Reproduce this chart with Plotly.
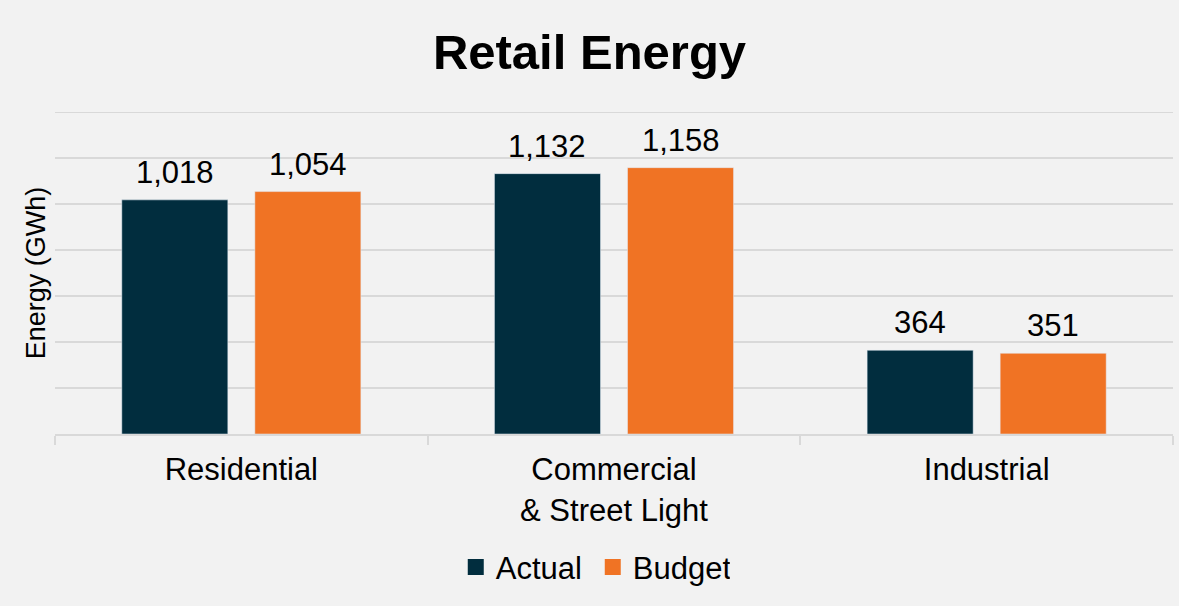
import plotly.graph_objects as go

categories = ["Residential", "Commercial<br>& Street Light", "Industrial"]
actual = [1018, 1132, 364]
budget = [1054, 1158, 351]

FONT = "Liberation Sans, Arial, sans-serif"
C_ACT = "#012d3e"
C_BUD = "#f07324"
GRID = "#d9d9d9"
BARGAP = 0.286
BARGROUPGAP = 0.203
YMAX = 1400

fig = go.Figure()
fig.add_trace(go.Bar(name="Actual", x=categories, y=actual, marker_color=C_ACT, showlegend=False))
fig.add_trace(go.Bar(name="Budget", x=categories, y=budget, marker_color=C_BUD, showlegend=False))

# legend entries with larger square swatches
fig.add_trace(go.Scatter(name="Actual", x=[None], y=[None], mode="markers",
                         marker=dict(symbol="square", size=22, color=C_ACT)))
fig.add_trace(go.Scatter(name="Budget", x=[None], y=[None], mode="markers",
                         marker=dict(symbol="square", size=22, color=C_BUD)))

# data labels
slot = (1 - BARGAP) / 2
for series, sign in ((actual, -1), (budget, 1)):
    for i, v in enumerate(series):
        fig.add_annotation(x=i + sign * slot / 2, y=v, text=f"{v:,}", showarrow=False,
                           yanchor="bottom", yshift=8,
                           font=dict(size=31, family=FONT, color="#000000"))

# top gridline at the axis maximum
fig.add_shape(type="line", xref="paper", yref="y", x0=0, x1=1, y0=YMAX, y1=YMAX,
              line=dict(color=GRID, width=2), layer="below")

fig.update_layout(
    width=1179, height=606,
    paper_bgcolor="#f2f2f2", plot_bgcolor="#f2f2f2",
    margin=dict(l=55, r=6, t=112, b=172),
    barmode="group", bargap=BARGAP, bargroupgap=BARGROUPGAP,
    font=dict(family=FONT, color="#000000"),
    title=dict(text="<b>Retail Energy</b>", x=0.5, xanchor="center", y=0.915, yanchor="middle",
               font=dict(size=49, family=FONT, color="#000000")),
    showlegend=True,
    legend=dict(orientation="h", x=0.481, xanchor="center", y=-0.33, yanchor="top",
                font=dict(size=31, family=FONT, color="#000000"), itemwidth=30,
                entrywidth=92, entrywidthmode="pixels",
                bgcolor="rgba(0,0,0,0)", tracegroupgap=0),
)
fig.update_xaxes(showline=True, linecolor=GRID, linewidth=2,
                 ticks="outside", tickson="boundaries", ticklen=9, tickcolor=GRID, tickwidth=2,
                 tickfont=dict(size=31, family=FONT, color="#000000"), showgrid=False,
                 ticklabelstandoff=7, range=[-0.5, 2.5])
fig.update_yaxes(range=[0, YMAX], dtick=200, showticklabels=False, showgrid=True,
                 gridcolor=GRID, gridwidth=2, zeroline=False,
                 title=dict(text="Energy (GWh)", font=dict(size=27, family=FONT, color="#000000"), standoff=0))

fig.write_html("out.html")
